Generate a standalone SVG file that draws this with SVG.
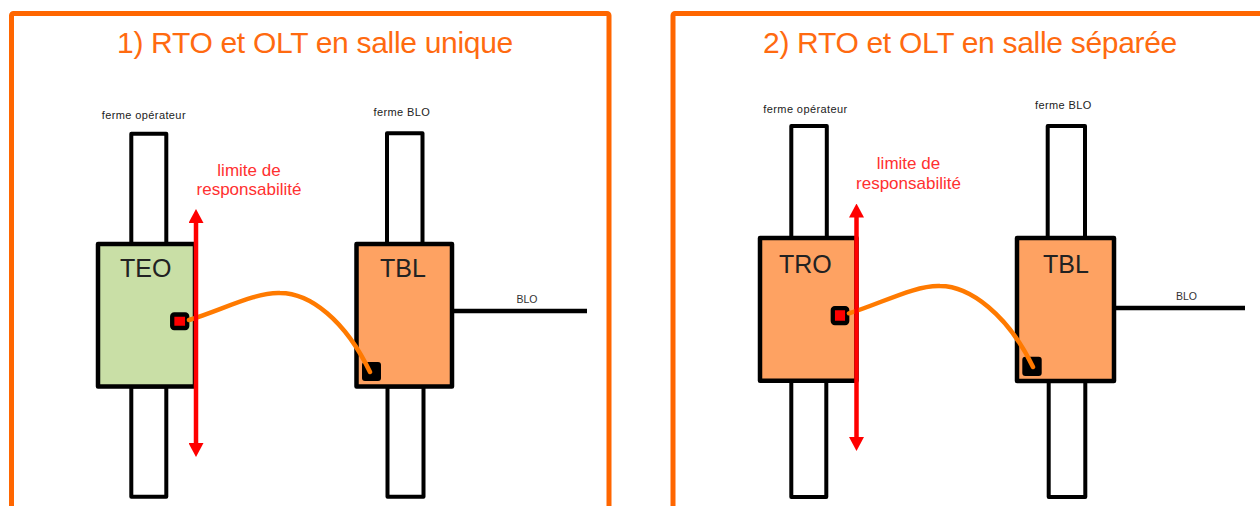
<svg xmlns="http://www.w3.org/2000/svg" width="1260" height="506" viewBox="0 0 1260 506">
<defs>
<style>
.panel{fill:none;stroke:#ff6600;stroke-width:5;stroke-linejoin:round}
.title{font-family:"Liberation Sans",Arial,sans-serif;font-size:30px;fill:#ff6a10;letter-spacing:-0.3px}
.pole{fill:#ffffff;stroke:#000;stroke-width:4;stroke-linejoin:round}
.box{stroke:#000;stroke-width:4.5;stroke-linejoin:round}
.green{fill:#c9dfa6}
.orange{fill:#fea262}
.boxlbl{font-family:"Liberation Sans",Arial,sans-serif;font-size:25px;fill:#222}
.small{font-family:"Liberation Sans",Arial,sans-serif;font-size:11px;fill:#222;letter-spacing:0.4px}
.blo{font-family:"Liberation Sans",Arial,sans-serif;font-size:10.5px;fill:#333}
.lim{font-family:"Liberation Sans",Arial,sans-serif;font-size:17px;fill:#ff3030;text-anchor:middle}
.cable{fill:none;stroke:#ff7a00;stroke-width:4.5;stroke-linecap:round}
.wire{stroke:#000;stroke-width:4.5}
.limit{stroke:#ff0000;stroke-width:4.5;marker-start:url(#ah);marker-end:url(#ah)}
.portr{fill:#ff0000;stroke:#000;stroke-width:4.3;stroke-linejoin:round}
.portb{fill:#000}
</style>
<marker id="ah" viewBox="0 0 14 15" markerWidth="14" markerHeight="15" refX="1" refY="7.5" orient="auto-start-reverse" markerUnits="userSpaceOnUse">
<path d="M0,0 L14,7.5 L0,15 z" fill="#ff0000"/>
</marker>
</defs>
<rect width="1260" height="506" fill="#ffffff"/>

<g id="panel1">
<rect class="panel" x="11.5" y="13.5" width="597.5" height="520" rx="2"/>
<text class="title" x="117" y="53">1) RTO et OLT en salle unique</text>
</g>
<g id="panel2">
<rect class="panel" x="673" y="13.5" width="620" height="520" rx="2"/>
<text class="title" x="763" y="53">2) RTO et OLT en salle séparée</text>
</g>

<g id="ferme-operateur-1">
<rect class="pole" x="131.3" y="133.7" width="35" height="110.3"/>
<rect class="pole" x="131.3" y="386.5" width="35" height="110.2"/>
<text class="small" x="101.7" y="119">ferme opérateur</text>
</g>
<g id="TEO">
<rect class="box green" x="98" y="244" width="97" height="142.5"/>
<text class="boxlbl" x="120" y="277">TEO</text>
<rect class="portr" x="172.2" y="314.5" width="15" height="13.5" rx="2"/>
</g>
<g id="ferme-BLO-1">
<rect class="pole" x="387" y="133.3" width="35.5" height="110.7"/>
<rect class="pole" x="387.5" y="386.6" width="36" height="110.1"/>
<text class="small" x="373.5" y="115.7">ferme BLO</text>
</g>
<g id="TBL-1">
<rect class="box orange" x="356.5" y="244" width="95.5" height="142.6"/>
<text class="boxlbl" x="380" y="277">TBL</text>
<rect class="portb" x="362" y="362" width="19" height="19" rx="3"/>
</g>

<g id="ferme-operateur-2">
<rect class="pole" x="791.3" y="126" width="35.5" height="112"/>
<rect class="pole" x="791.3" y="380.7" width="35" height="116.3"/>
<text class="small" x="763.3" y="113.3">ferme opérateur</text>
</g>
<g id="TRO">
<rect class="box orange" x="760" y="238" width="96.5" height="142.7"/>
<text class="boxlbl" x="779" y="273">TRO</text>
<rect class="portr" x="832.8" y="308.2" width="14.4" height="14.8" rx="2"/>
</g>
<g id="ferme-BLO-2">
<rect class="pole" x="1047.7" y="126" width="37.3" height="112"/>
<rect class="pole" x="1048.7" y="381" width="36.6" height="116"/>
<text class="small" x="1035" y="109.3">ferme BLO</text>
</g>
<g id="TBL-2">
<rect class="box orange" x="1017" y="238" width="97" height="143"/>
<text class="boxlbl" x="1043" y="273">TBL</text>
<rect class="portb" x="1022.3" y="356.7" width="19.4" height="19.3" rx="3"/>
</g>

<g id="labels">
<text class="lim" x="249" y="176">limite de</text>
<text class="lim" x="249" y="195">responsabilité</text>
<text class="lim" x="908.5" y="169">limite de</text>
<text class="lim" x="908.5" y="189">responsabilité</text>
<text class="blo" x="516.5" y="302.7">BLO</text>
<text class="blo" x="1176" y="300">BLO</text>
</g>

<g id="connectors">
<line class="wire" x1="452" y1="311" x2="587" y2="311"/>
<line class="wire" x1="1114" y1="308" x2="1245" y2="308"/>
<path class="cable" d="M189,320 C220,311 255,292 280,293 C310,293 345,320 370,372"/>
<path class="cable" d="M849,313.3 C880,304 915,285 940,286 C970,286 1008,315 1033,367"/>
<line class="limit" x1="196" y1="222" x2="196" y2="444"/>
<line class="limit" x1="856.5" y1="216.5" x2="856.5" y2="438"/>
</g>
</svg>
